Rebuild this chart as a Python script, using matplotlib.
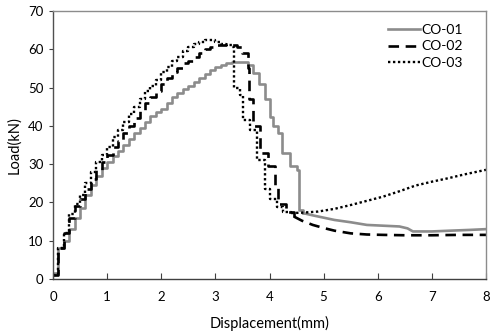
# 荷重-変位曲線の再現
import numpy as np
import matplotlib
matplotlib.use("Agg")
import matplotlib.pyplot as plt

plt.rcParams['font.family'] = ['Lato', 'DejaVu Sans']

# CO-01 (灰色実線)
x1 = [0, 0.05, 0.1, 0.2, 0.3, 0.4, 0.5, 0.6, 0.7, 0.8, 0.9, 1.0, 1.1, 1.2, 1.3, 1.4,
      1.5, 1.6, 1.7, 1.8, 1.9, 2.0, 2.1, 2.2, 2.3, 2.4, 2.5, 2.6, 2.7, 2.8, 2.9, 3.0,
      3.1, 3.2, 3.3, 3.4, 3.6, 3.7, 3.8, 3.92, 4.0, 4.06, 4.16, 4.23, 4.38, 4.5, 4.55,
      4.62, 4.8, 5.0, 5.2, 5.5, 5.8, 6.1, 6.4, 6.55, 6.65, 7.0, 7.34, 7.7, 8.0]
y1 = [1.5, 1.5, 8, 10, 13, 16, 18.5, 22, 24.5, 27, 29, 30.5, 32, 33.5, 35, 36.5,
      38, 39.5, 41, 42.5, 43.5, 44.5, 46, 47.5, 48.5, 49.5, 50.5, 51.5, 52.5, 53.5, 54.5, 55.3,
      56, 56.4, 56.7, 56.7, 56, 53.8, 51, 47, 42.3, 40, 38, 33, 29.5, 28.5, 18,
      17.2, 16.6, 16.0, 15.4, 14.8, 14.1, 13.9, 13.7, 13.2, 12.4, 12.4, 12.6, 12.8, 13.0]

# CO-02 (黒破線)
x2 = [0, 0.05, 0.1, 0.2, 0.3, 0.4, 0.5, 0.6, 0.7, 0.8, 0.9, 1.0, 1.1, 1.2, 1.3, 1.4,
      1.5, 1.6, 1.7, 1.8, 1.9, 2.0, 2.1, 2.2, 2.3, 2.4, 2.5, 2.6, 2.7, 2.8, 2.9, 3.0,
      3.1, 3.2, 3.3, 3.4, 3.5, 3.6, 3.62, 3.7, 3.83, 3.98, 4.1, 4.15, 4.3, 4.45, 4.6,
      4.8, 5.0, 5.2, 5.5, 5.8, 6.1, 6.5, 7.0, 7.5, 8.0]
y2 = [1, 1, 8, 12, 16, 19, 21, 23.5, 26, 28.5, 30.5, 32.5, 34.5, 36, 38, 40,
      42, 44, 46, 47.5, 49, 51, 52.5, 54, 55, 56.3, 57, 58, 59, 60, 60.5, 61,
      61.2, 61.3, 61, 60.5, 59, 55, 47, 40, 33, 29.5, 24, 19.5, 17.5, 16.3, 15.2,
      14.1, 13.3, 12.6, 11.9, 11.6, 11.5, 11.4, 11.4, 11.5, 11.5]

# CO-03 (黒点線)
x3 = [0, 0.05, 0.1, 0.2, 0.3, 0.4, 0.5, 0.6, 0.7, 0.8, 0.9, 1.0, 1.1, 1.2, 1.3, 1.4,
      1.5, 1.6, 1.7, 1.8, 1.9, 2.0, 2.1, 2.2, 2.3, 2.4, 2.5, 2.6, 2.7, 2.8, 2.9, 3.0,
      3.1, 3.2, 3.3, 3.35, 3.46, 3.51, 3.64, 3.76, 3.92, 4.0, 4.13, 4.25, 4.4, 4.6,
      4.9, 5.2, 5.5, 5.8, 6.1, 6.4, 6.7, 7.0, 7.3, 7.6, 8.0]
y3 = [1, 1, 8, 12, 17, 19.5, 22, 25, 28, 30.5, 32.5, 34.5, 37, 39, 41, 43,
      45, 47, 49, 50.5, 52, 54, 55.5, 57, 58, 59.5, 60.5, 61.5, 62, 62.3, 62.3, 62,
      61.5, 61, 60.5, 50, 48, 41.5, 38.9, 31, 23.5, 21, 18.8, 17.6, 17.2, 17.3,
      17.6, 18.3, 19.3, 20.4, 21.5, 22.9, 24.4, 25.4, 26.3, 27.3, 28.5]

labels = ["CO-01", "CO-02", "CO-03"]
# 階段状に描く区間の終わり(これ以降は折れ線)
split_x = [4.62, 4.45, 4.4]

styles = [dict(color="#8c8c8c", lw=1.9, ls="-"),
          dict(color="black", lw=1.9, ls=(0, (4, 2.5))),
          dict(color="black", lw=1.7, ls=(0, (1, 1.1)))]

fig = plt.figure(figsize=(5.0, 3.34), dpi=100)
ax = fig.add_axes([0.106, 0.165, 0.866, 0.802])

for x, y, lab, sx, st in zip([x1, x2, x3], [y1, y2, y3], labels, split_x, styles):
    k = x.index(sx)
    ax.plot(x[:k + 1], y[:k + 1], drawstyle="steps-post", label=lab, **st)
    ax.plot(x[k:], y[k:], **st)

ax.set_xlim(0, 8)
ax.set_ylim(0, 70)
ax.set_xticks(np.arange(0, 9, 1))
ax.set_yticks(np.arange(0, 80, 10))
ax.tick_params(axis="x", direction="in", length=4, color="#404040", labelsize=9.5, pad=9)
ax.tick_params(axis="y", direction="out", length=3, color="#404040", labelsize=9.5, pad=4)

ax.spines["left"].set_color("#505050")
ax.spines["bottom"].set_color("#404040")
ax.spines["top"].set_color("#8c8c8c")
ax.spines["right"].set_color("#8c8c8c")
for s in ax.spines.values():
    s.set_linewidth(1.0)

ax.set_xlabel("Displacement(mm)", fontsize=10.5, labelpad=9)
ax.set_ylabel("Load(kN)", fontsize=10.5, labelpad=5)

ax.legend(loc="upper right", frameon=False, fontsize=10, handlelength=2.3,
          handletextpad=0.1, labelspacing=0.35, bbox_to_anchor=(0.975, 1.0))

plt.savefig("out.png", dpi=100)
